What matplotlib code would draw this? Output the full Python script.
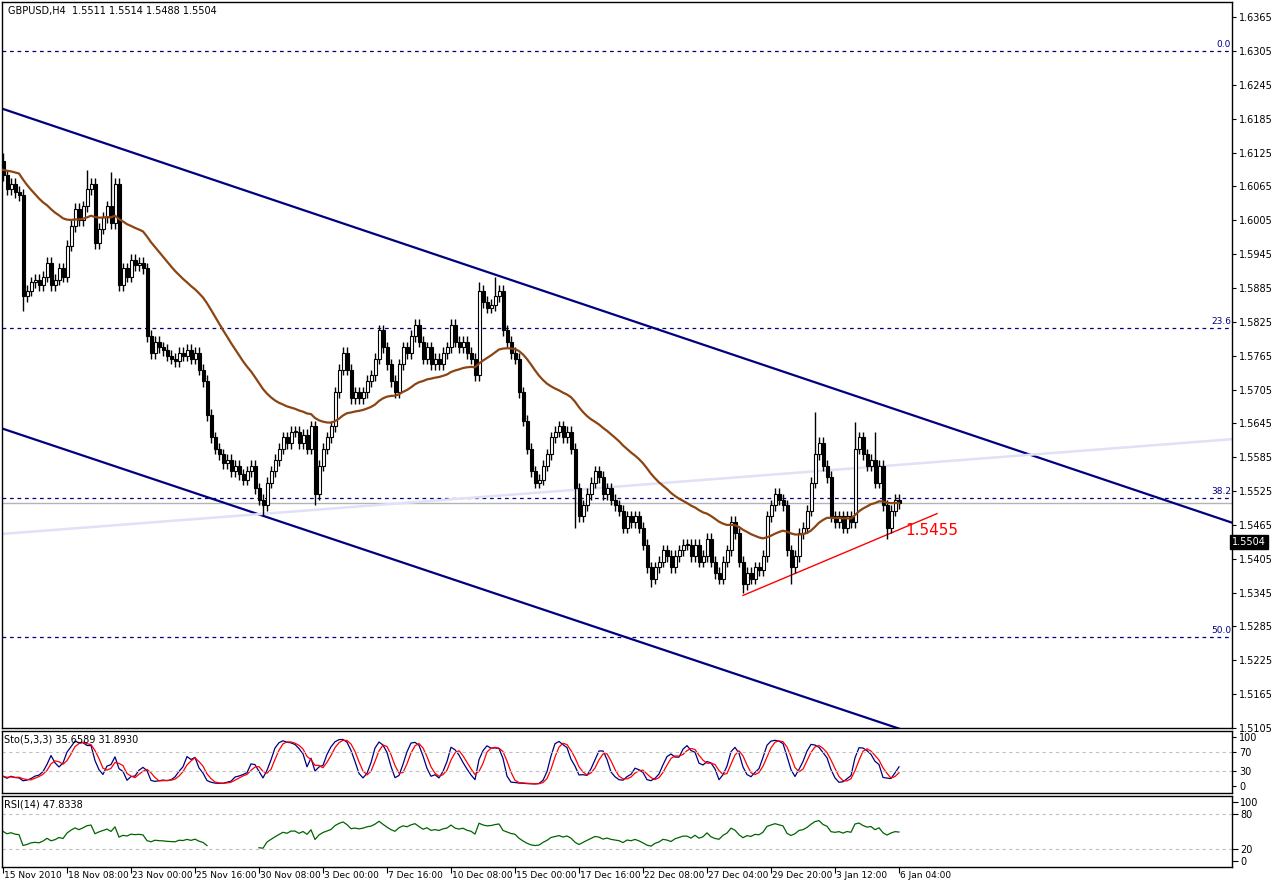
"""GBPUSD H4 chart with channel, fibo levels, Stochastic and RSI panels."""

import matplotlib
matplotlib.use("Agg")
import matplotlib.pyplot as plt
import numpy as np
import pandas as pd

# closes, one per H4 bar
closes = [
    1.6085, 1.6060, 1.6070, 1.6055, 1.6050,
    1.5870,
    1.5880, 1.5895, 1.5900, 1.5890, 1.5905, 1.5930, 1.5890, 1.5900, 1.5920, 1.5905,
    1.5960, 1.5995, 1.6025, 1.6005, 1.6030, 1.6060, 1.6070, 1.5965,
    1.5990, 1.6010, 1.6030, 1.6000, 1.6070,
    1.5890,
    1.5920, 1.5905, 1.5935, 1.5925, 1.5930, 1.5920,
    1.5800,
    1.5770, 1.5790, 1.5780, 1.5775, 1.5765, 1.5760,
    1.5755, 1.5770, 1.5765, 1.5775, 1.5760, 1.5770,
    1.5740, 1.5720, 1.5660, 1.5620, 1.5600,
    1.5590, 1.5575, 1.5580, 1.5560, 1.5570, 1.5555, 1.5545, 1.5560, 1.5570,
    1.5530, 1.5510, 1.5500, 1.5540,
    1.5560, 1.5580, 1.5600, 1.5620, 1.5610, 1.5630,
    1.5630, 1.5610, 1.5625, 1.5600, 1.5640,
    1.5520,
    1.5570, 1.5600, 1.5620, 1.5640,
    1.5700, 1.5740, 1.5770, 1.5740,
    1.5690, 1.5700, 1.5690, 1.5700, 1.5720,
    1.5730, 1.5760, 1.5810, 1.5780, 1.5750,
    1.5720, 1.5700, 1.5750, 1.5780, 1.5770,
    1.5800, 1.5820, 1.5790, 1.5760, 1.5780,
    1.5750, 1.5760, 1.5750, 1.5770, 1.5780, 1.5820,
    1.5790, 1.5780, 1.5790, 1.5770, 1.5760,
    1.5730,
    1.5880, 1.5860, 1.5850, 1.5855, 1.5870, 1.5880,
    1.5810, 1.5790, 1.5770, 1.5760,
    1.5700, 1.5650, 1.5600, 1.5560, 1.5540,
    1.5545, 1.5570, 1.5590, 1.5620, 1.5630,
    1.5640, 1.5620, 1.5630, 1.5600,
    1.5530, 1.5480, 1.5500, 1.5520,
    1.5540, 1.5560, 1.5550, 1.5520, 1.5530, 1.5510,
    1.5500, 1.5490, 1.5460, 1.5480,
    1.5470, 1.5480, 1.5460, 1.5430,
    1.5390, 1.5370, 1.5390,
    1.5400, 1.5420, 1.5410, 1.5390, 1.5410, 1.5420, 1.5430, 1.5430, 1.5410,
    1.5430, 1.5400, 1.5410, 1.5440, 1.5400, 1.5380, 1.5370, 1.5400,
    1.5420, 1.5470, 1.5450, 1.5400,
    1.5360, 1.5380, 1.5370, 1.5390, 1.5385, 1.5410,
    1.5480, 1.5500, 1.5520, 1.5510, 1.5500,
    1.5420, 1.5390, 1.5410, 1.5450,
    1.5460, 1.5490, 1.5540, 1.5590, 1.5610,
    1.5570, 1.5550, 1.5480,
    1.5470, 1.5480, 1.5460, 1.5480, 1.5470,
    1.5600, 1.5620, 1.5590,
    1.5570, 1.5580, 1.5540, 1.5570, 1.5500,
    1.5460, 1.5490, 1.5510, 1.5504,
]
first_open = 1.6110
# notable wick extremes (bar index -> price)
spike_highs = {0: 1.6125, 21: 1.6095, 27: 1.6090, 119: 1.5895, 123: 1.5905,
               203: 1.5665, 213: 1.5648, 218: 1.5630, 139: 1.5650}
spike_lows = {5: 1.5845, 65: 1.5480, 78: 1.5500, 162: 1.5355, 185: 1.5344,
              197: 1.5360, 221: 1.5440, 143: 1.5460}
wick = 0.0010
ma_seed = 1.6095     # MA value just before the first visible bar
rsi_seed_gain = 0.0012  # average gain/loss before the first visible bar
rsi_seed_loss = 0.0010

date_labels = ["15 Nov 2010", "18 Nov 08:00", "23 Nov 00:00", "25 Nov 16:00",
               "30 Nov 08:00", "3 Dec 00:00", "7 Dec 16:00", "10 Dec 08:00",
               "15 Dec 00:00", "17 Dec 16:00", "22 Dec 08:00", "27 Dec 04:00",
               "29 Dec 20:00", "3 Jan 12:00", "6 Jan 04:00"]
label_step = 16

fibo_levels = {"0.0": 1.6306, "23.6": 1.5814, "38.2": 1.5513, "50.0": 1.5267}
upper_channel = [(-0.25, 1.6203), (307.25, 1.5469)]
lower_channel = [(-0.25, 1.5636), (226.5, 1.5098)]
light_line = [(-0.25, 1.5449), (307.25, 1.5617)]
red_line = [(185.0, 1.5340), (233.5, 1.5485)]
last_price = 1.5504

W, H = 1274, 885
fig = plt.figure(figsize=(W / 100, H / 100), dpi=100)
fig.patch.set_facecolor("white")


def px_axes(x0, y0, x1, y1):
    return fig.add_axes([x0 / W, 1 - y1 / H, (x1 - x0) / W, (y1 - y0) / H])


ax = px_axes(2, 2, 1232, 728)
ax_sto = px_axes(2, 731, 1232, 793)
ax_rsi = px_axes(2, 796, 1232, 867)

c = np.array(closes)
n = len(c)
idx = np.arange(n)
o = np.concatenate([[first_open], c[:-1]])
hi = np.maximum(o, c) + wick
lo = np.minimum(o, c) - wick
for k, v in spike_highs.items():
    hi[k] = v
for k, v in spike_lows.items():
    lo[k] = v

xlim = (-0.25, 307.25)
for a in (ax, ax_sto, ax_rsi):
    a.set_xlim(*xlim)
    a.tick_params(left=False, labelleft=False, bottom=False, labelbottom=False,
                  right=True, labelright=True, direction="out", length=3,
                  labelsize=7, pad=2)
    a.yaxis.set_ticks_position("right")
    for s in a.spines.values():
        s.set_linewidth(1.0)

# candles
ax.vlines(idx, lo, hi, color="black", linewidth=1, zorder=3)
up = c >= o
body = np.abs(c - o)
body = np.where(body < 0.00015, 0.00015, body)
ax.bar(idx[up], body[up], bottom=np.minimum(o, c)[up], width=0.75,
       color="white", edgecolor="black", linewidth=0.8, zorder=4)
ax.bar(idx[~up], body[~up], bottom=np.minimum(o, c)[~up], width=0.75,
       color="black", edgecolor="black", linewidth=0.8, zorder=4)

# moving average (slow EMA)
ma = pd.Series(np.concatenate([[ma_seed] * 40, c])).ewm(span=40, adjust=False).mean().values[40:]
ax.plot(idx, ma, color="#8B4513", linewidth=1.6, zorder=5)

# channel and trend lines
for line, col, lw in [(upper_channel, "#000080", 1.6), (lower_channel, "#000080", 1.6),
                      (light_line, "#e0e0f6", 1.8), (red_line, "red", 1.0)]:
    (x0, y0), (x1, y1) = line
    ax.plot([x0, x1], [y0, y1], color=col, linewidth=lw, zorder=2)
ax.text(225.5, 1.5455, "1.5455", color="red", fontsize=11, va="center")

# fibo levels
for name, lvl in fibo_levels.items():
    ax.axhline(lvl, color="#000080", linestyle=(0, (3, 3)), linewidth=0.9, zorder=1)
    ax.text(307.0, lvl + 0.0003, name, color="#000080", fontsize=6.5,
            ha="right", va="bottom")
ax.axhline(last_price, color="#b4b4b4", linewidth=1.0, zorder=1)

ax.set_ylim(1.5198, 1.6392)
ax.set_yticks(np.round(np.arange(1.5105, 1.6366, 0.0060), 4))
ax.yaxis.set_major_formatter(matplotlib.ticker.FormatStrFormatter("%.4f"))
ax.text(1.0, (last_price - 1.5198) / (1.6392 - 1.5198), f"{last_price:.4f}",
        transform=ax.transAxes, fontsize=7, color="white", va="center",
        ha="left", bbox=dict(boxstyle="square,pad=0.2", fc="black", ec="black"))
ax.text(0.005, 0.995, "GBPUSD,H4  1.5511 1.5514 1.5488 1.5504", transform=ax.transAxes,
        fontsize=7, va="top", ha="left")

# stochastic 5,3,3
s = pd.Series(c)
hh = pd.Series(hi).rolling(5, min_periods=1).max()
ll = pd.Series(lo).rolling(5, min_periods=1).min()
k_line = (100 * (s - ll).rolling(3, min_periods=1).sum()
          / (hh - ll).rolling(3, min_periods=1).sum())
d_line = k_line.rolling(3, min_periods=1).mean()
ax_sto.plot(idx, k_line, color="#000080", linewidth=0.9)
ax_sto.plot(idx, d_line, color="red", linewidth=0.9)
for lvl in (70, 30):
    ax_sto.axhline(lvl, color="#c0c0c0", linestyle=(0, (3, 3)), linewidth=0.8)
ax_sto.set_ylim(-14, 112)
ax_sto.set_yticks([0, 30, 70, 100])
ax_sto.text(0.002, 0.95, "Sto(5,3,3) 35.6589 31.8930", transform=ax_sto.transAxes,
            fontsize=7, va="top")

# RSI 14 (Wilder smoothing, seeded)
delta = np.diff(np.concatenate([[first_open], c]))
g = np.concatenate([[rsi_seed_gain], np.clip(delta, 0, None)])
l = np.concatenate([[rsi_seed_loss], np.clip(-delta, 0, None)])
gain = pd.Series(g).ewm(alpha=1 / 14, adjust=False).mean().values[1:]
loss = pd.Series(l).ewm(alpha=1 / 14, adjust=False).mean().values[1:]
rsi = 100 - 100 / (1 + gain / loss)
rsi[52:64] = np.nan
ax_rsi.plot(idx, rsi, color="#006400", linewidth=0.9)
for lvl in (80, 20):
    ax_rsi.axhline(lvl, color="#c0c0c0", linestyle=(0, (3, 3)), linewidth=0.8)
ax_rsi.set_ylim(-10, 110)
ax_rsi.set_yticks([0, 20, 80, 100])
ax_rsi.text(0.002, 0.95, "RSI(14) 47.8338", transform=ax_rsi.transAxes,
            fontsize=7, va="top")

# date axis
ax_rsi.set_xticks(np.arange(len(date_labels)) * label_step)
ax_rsi.tick_params(bottom=True, length=4)
for i, lab in enumerate(date_labels):
    ax_rsi.text(i * label_step + 0.3, -17, lab, fontsize=6.5, ha="left", va="top",
                clip_on=False)

fig.savefig("out.png", dpi=100)
